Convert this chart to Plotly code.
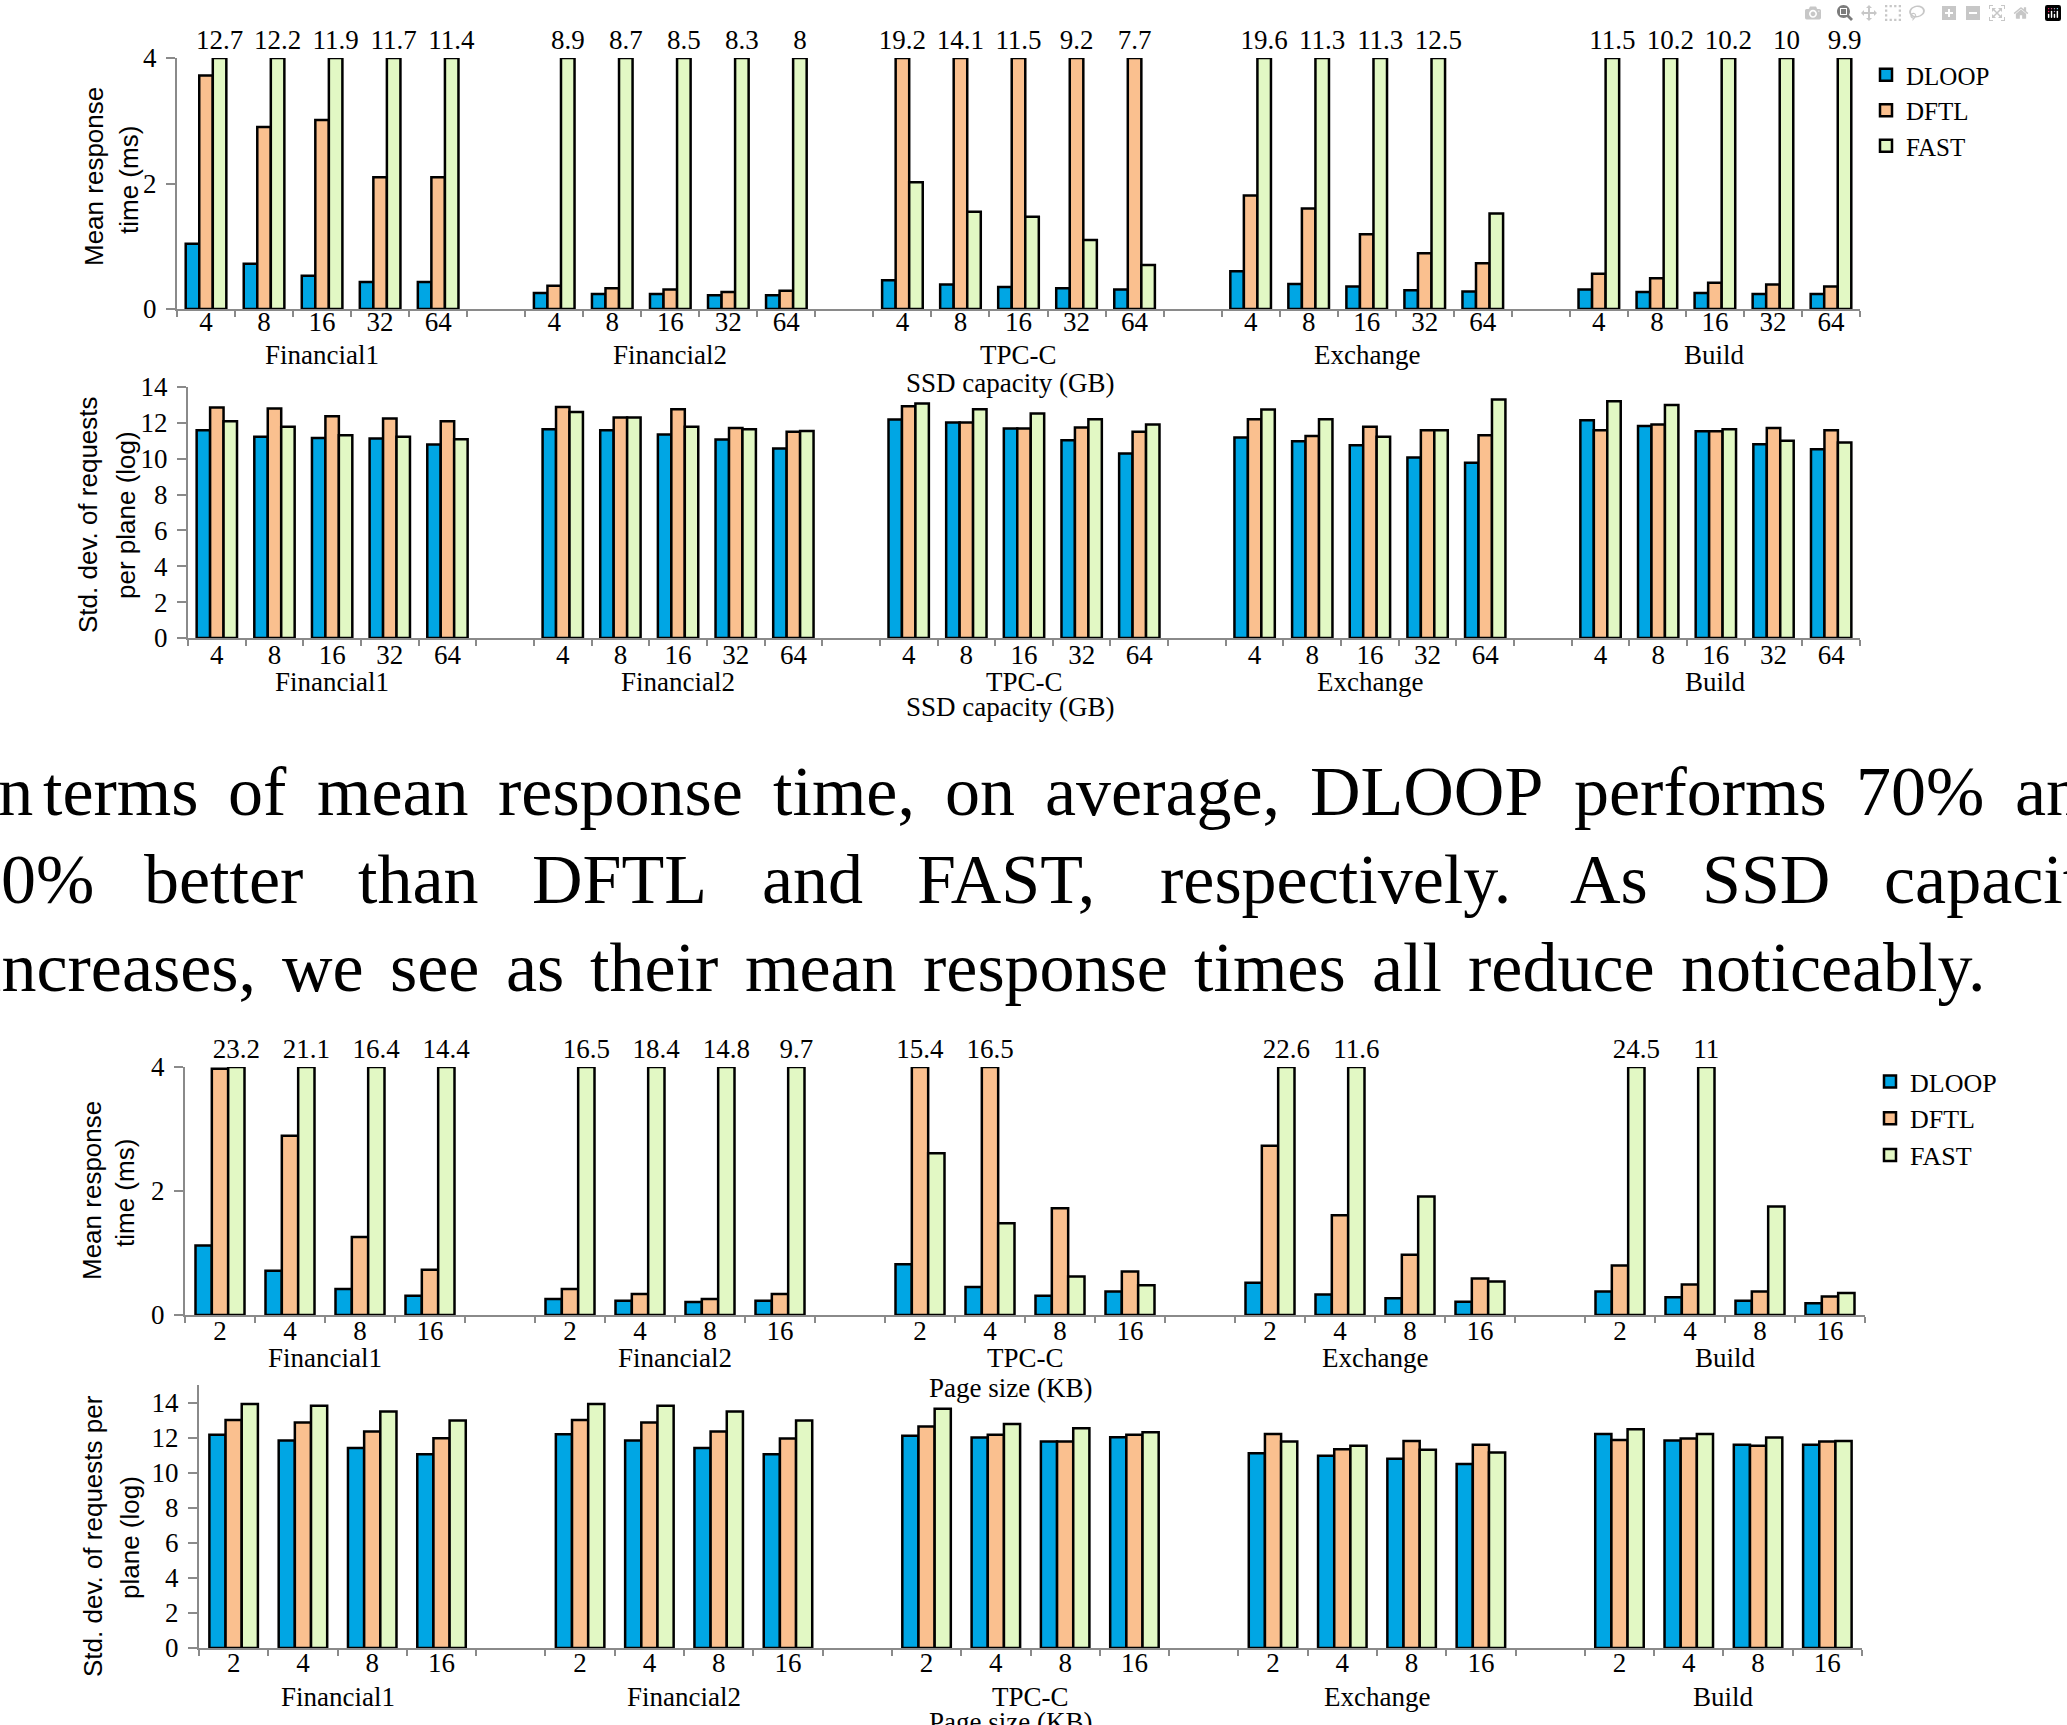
import plotly.graph_objects as go

W, H = 2067, 1725
SERIF = "Liberation Serif, Times New Roman, serif"
SANS = "Liberation Sans, Arial, sans-serif"
AXIS_GRAY = "#8a8a8a"

# ---------------- data ----------------
groups = ["Financial1", "Financial2", "TPC-C", "Exchange", "Build"]
capacities = ["4", "8", "16", "32", "64"]
page_sizes = ["2", "4", "8", "16"]
series_names = ["DLOOP", "DFTL", "FAST"]
series_colors = ["#00A6E4", "#FAC08F", "#E2F8C4"]

# mean response time (ms) vs SSD capacity, groups in order, 5 capacities each
cap_mrt_dloop = [1.04, 0.72, 0.53, 0.43, 0.43, 0.255, 0.24, 0.24, 0.22, 0.22,
                 0.46, 0.39, 0.35, 0.33, 0.31, 0.60, 0.40, 0.36, 0.30, 0.28,
                 0.31, 0.27, 0.255, 0.24, 0.24]
cap_mrt_dftl = [3.72, 2.90, 3.01, 2.10, 2.10, 0.37, 0.33, 0.31, 0.27, 0.29,
                19.2, 14.1, 11.5, 9.2, 7.7, 1.81, 1.60, 1.19, 0.89, 0.73,
                0.56, 0.49, 0.42, 0.39, 0.36]
cap_mrt_fast = [12.7, 12.2, 11.9, 11.7, 11.4, 8.9, 8.7, 8.5, 8.3, 8,
                2.02, 1.55, 1.47, 1.10, 0.70, 19.6, 11.3, 11.3, 12.5, 1.52,
                11.5, 10.2, 10.2, 10, 9.9]

# std. dev. of requests per plane (log) vs SSD capacity
cap_std_dloop = [11.59, 11.22, 11.16, 11.13, 10.79, 11.65, 11.59, 11.35, 11.07, 10.57,
                 12.19, 12.02, 11.68, 11.03, 10.29, 11.18, 10.98, 10.75, 10.07, 9.77,
                 12.15, 11.83, 11.53, 10.81, 10.53]
cap_std_dftl = [12.86, 12.80, 12.37, 12.24, 12.09, 12.89, 12.30, 12.76, 11.72, 11.50,
                12.93, 12.02, 11.68, 11.74, 11.50, 12.20, 11.27, 11.78, 11.59, 11.31,
                11.59, 11.91, 11.53, 11.72, 11.59]
cap_std_fast = [12.09, 11.78, 11.31, 11.22, 11.09, 12.61, 12.30, 11.78, 11.65, 11.55,
                13.08, 12.76, 12.52, 12.20, 11.91, 12.74, 12.20, 11.22, 11.59, 13.30,
                13.21, 12.99, 11.65, 11.00, 10.90]

# mean response time (ms) vs page size, 4 page sizes each
page_mrt_dloop = [1.12, 0.715, 0.42, 0.31, 0.26, 0.23, 0.21, 0.23, 0.82, 0.45,
                  0.31, 0.38, 0.52, 0.33, 0.27, 0.215, 0.38, 0.285, 0.23, 0.19]
page_mrt_dftl = [3.97, 2.89, 1.26, 0.73, 0.42, 0.34, 0.26, 0.34, 15.4, 16.5,
                 1.72, 0.70, 2.73, 1.61, 0.97, 0.59, 0.80, 0.49, 0.38, 0.30]
page_mrt_fast = [23.2, 21.1, 16.4, 14.4, 16.5, 18.4, 14.8, 9.7, 2.61, 1.48,
                 0.62, 0.48, 22.6, 11.6, 1.91, 0.54, 24.5, 11, 1.75, 0.355]

# std. dev. of requests per plane (log) vs page size
page_std_dloop = [12.16, 11.83, 11.40, 11.05, 12.19, 11.83, 11.40, 11.05, 12.10, 12.00,
                  11.78, 12.02, 11.11, 10.96, 10.79, 10.50, 12.21, 11.83, 11.59, 11.59]
page_std_dftl = [13.01, 12.86, 12.35, 11.97, 13.01, 12.86, 12.35, 11.95, 12.63, 12.16,
                 11.78, 12.16, 12.21, 11.34, 11.81, 11.59, 11.87, 11.95, 11.53, 11.78]
page_std_fast = [13.92, 13.81, 13.49, 12.97, 13.92, 13.81, 13.49, 12.97, 13.64, 12.78,
                 12.54, 12.31, 11.78, 11.53, 11.30, 11.15, 12.48, 12.21, 12.00, 11.81]

# paragraph text between the two figures
para_line1 = "In terms of mean response time, on average, DLOOP performs 70% and"
para_line2 = "50% better than DFTL and FAST, respectively. As SSD capacity"
para_line3 = "increases, we see as their mean response times all reduce noticeably."

# ---------------- layout geometry (pixels) ----------------
panels = [
    dict(sizes=capacities, data=[cap_mrt_dloop, cap_mrt_dftl, cap_mrt_fast],
         ymax=4, yticks=[0, 2, 4], x0=177, x1=1860, ytop=58, ybot=309,
         ytitle=[("Mean response", 94, 177), ("time (ms)", 129, 180)],
         group_y=355, axis_title="SSD capacity (GB)", axis_title_y=383,
         legend="legend", xstandoff=-12),
    dict(sizes=capacities, data=[cap_std_dloop, cap_std_dftl, cap_std_fast],
         ymax=14, yticks=[0, 2, 4, 6, 8, 10, 12, 14], x0=188, x1=1860, ytop=387, ybot=638,
         ytitle=[("Std. dev. of requests", 88, 515), ("per plane (log)", 126, 515)],
         group_y=682, axis_title="SSD capacity (GB)", axis_title_y=707,
         legend=None, xstandoff=-8),
    dict(sizes=page_sizes, data=[page_mrt_dloop, page_mrt_dftl, page_mrt_fast],
         ymax=4, yticks=[0, 2, 4], x0=185, x1=1865, ytop=1067, ybot=1315,
         ytitle=[("Mean response", 92, 1191), ("time (ms)", 125, 1193)],
         group_y=1358, axis_title="Page size (KB)", axis_title_y=1388,
         legend="legend2", xstandoff=-9),
    dict(sizes=page_sizes, data=[page_std_dloop, page_std_dftl, page_std_fast],
         ymax=15, yticks=[0, 2, 4, 6, 8, 10, 12, 14], x0=199, x1=1862, ytop=1385, ybot=1648,
         ytitle=[("Std. dev. of requests per", 93, 1536), ("plane (log)", 130, 1538)],
         group_y=1697, axis_title="Page size (KB)", axis_title_y=1722,
         legend=None, xstandoff=-10),
]

para_words_x = [
    ([-27, 41, 226, 315, 496, 771, 943, 1043, 1308, 1572, 1854, 2013], para_line1, 791),
    ([-36, 142, 356, 530, 760, 915, 1158, 1568, 1700, 1882], para_line2, 879),
    ([-20, 280, 388, 504, 588, 743, 921, 1192, 1370, 1466, 1679], para_line3, 967),
]


def px(x):
    return x / W


def py(y):
    return 1 - y / H


def build_categories(sizes):
    cats, ticktext, centers = [], [], []
    for gi, g in enumerate(groups):
        if gi > 0:
            cats.append(f"gap{gi}")
            ticktext.append("")
        start = len(cats)
        for s in sizes:
            cats.append(f"{g}|{s}")
            ticktext.append(s)
        centers.append(start + (len(sizes) - 1) / 2)
    return cats, ticktext, centers


fig = go.Figure()
annotations = []
layout_axes = {}

for i, p in enumerate(panels, start=1):
    xa = "x" if i == 1 else f"x{i}"
    ya = "y" if i == 1 else f"y{i}"
    cats, ticktext, centers = build_categories(p["sizes"])
    xcats = [f"{g}|{s}" for g in groups for s in p["sizes"]]
    for k, (name, color) in enumerate(zip(series_names, series_colors)):
        vals = p["data"][k]
        fig.add_trace(go.Bar(
            x=xcats,
            y=[min(v, p["ymax"]) for v in vals],
            text=[f"{v:g}" if v > p["ymax"] else "" for v in vals],
            textposition="outside",
            constraintext="none",
            cliponaxis=False,
            textfont=dict(family=SERIF, size=27, color="black"),
            name=name,
            marker=dict(color=color, line=dict(color="black", width=2.5)),
            xaxis=xa, yaxis=ya,
            showlegend=p["legend"] is not None,
            legend=p["legend"] if p["legend"] else "legend",
            hoverinfo="skip",
        ))
    xkey = "xaxis" if i == 1 else f"xaxis{i}"
    ykey = "yaxis" if i == 1 else f"yaxis{i}"
    layout_axes[xkey] = dict(
        domain=[px(p["x0"]), px(p["x1"])], anchor=ya, type="category",
        categoryorder="array", categoryarray=cats,
        tickmode="array", tickvals=cats, ticktext=ticktext,
        tickson="boundaries", ticks="outside", ticklen=6, tickwidth=2,
        tickcolor=AXIS_GRAY, showline=True, linecolor=AXIS_GRAY, linewidth=2,
        showgrid=False, zeroline=False, range=[-0.5, len(cats) - 0.5],
        ticklabelstandoff=p["xstandoff"], automargin=False,
        tickfont=dict(family=SERIF, size=27, color="black"),
    )
    layout_axes[ykey] = dict(
        domain=[py(p["ybot"]), py(p["ytop"])], anchor=xa,
        range=[0, p["ymax"]], tickmode="array", tickvals=p["yticks"],
        ticks="outside", ticklen=9, tickwidth=2, tickcolor=AXIS_GRAY,
        showline=True, linecolor=AXIS_GRAY, linewidth=2,
        showgrid=False, zeroline=False, ticklabelstandoff=4, automargin=False,
        tickfont=dict(family=SERIF, size=27, color="black"),
    )
    for text, tx, ty in p["ytitle"]:
        annotations.append(dict(
            text=text, x=px(tx), y=py(ty), xref="paper", yref="paper",
            showarrow=False, textangle=-90, xanchor="center", yanchor="middle",
            font=dict(family=SANS, size=26, color="black")))
    for g, c in zip(groups, centers):
        annotations.append(dict(
            text=g, x=c, y=py(p["group_y"]), xref=xa, yref="paper",
            showarrow=False, xanchor="center", yanchor="middle",
            font=dict(family=SERIF, size=27, color="black")))
    annotations.append(dict(
        text=p["axis_title"], x=px(1010), y=py(p["axis_title_y"]),
        xref="paper", yref="paper", showarrow=False,
        xanchor="center", yanchor="middle",
        font=dict(family=SERIF, size=27, color="black")))

for xs, line, yc in para_words_x:
    for word, wx in zip(line.split(), xs):
        annotations.append(dict(
            text=word, x=px(wx), y=py(yc), xref="paper", yref="paper",
            showarrow=False, xanchor="left", yanchor="middle",
            font=dict(family=SERIF, size=70, color="black")))

fig.update_layout(
    width=W, height=H,
    margin=dict(l=0, r=0, t=0, b=0, pad=0, autoexpand=False),
    paper_bgcolor="white", plot_bgcolor="white",
    barmode="group", bargap=0.3, bargroupgap=0,
    annotations=annotations,
    legend=dict(x=px(1866), y=py(52), xanchor="left", yanchor="top",
                font=dict(family=SERIF, size=25, color="black"),
                bgcolor="rgba(0,0,0,0)", tracegroupgap=0, itemwidth=30),
    legend2=dict(x=px(1870), y=py(1058), xanchor="left", yanchor="top",
                 font=dict(family=SERIF, size=26, color="black"),
                 bgcolor="rgba(0,0,0,0)", tracegroupgap=0, itemwidth=30),
    **layout_axes,
)

fig.write_html("out.html",
               post_script="document.body.style.margin='0';document.body.style.overflow='hidden';")
